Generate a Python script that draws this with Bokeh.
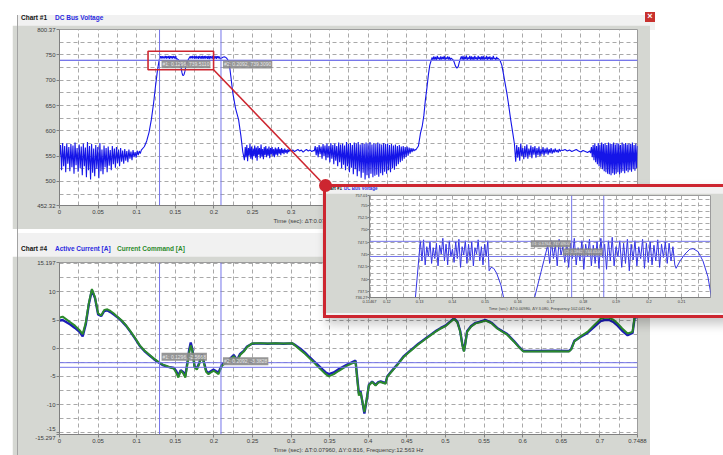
import numpy as np
from bokeh.plotting import figure
from bokeh.layouts import column
from bokeh.models import Range1d, FixedTicker, PrintfTickFormatter, Label, Div
from bokeh.embed import file_html
from bokeh.resources import INLINE

# ---------------- Chart #1: DC bus voltage (V) ----------------
bus_x_range = (0.0, 0.7488)
bus_y_range = (452.32, 800.37)
bus_x_ticks = [0, 0.05, 0.1, 0.15, 0.2, 0.25, 0.3, 0.35, 0.4, 0.45, 0.5, 0.55, 0.6, 0.65, 0.7, 0.7488]
bus_y_ticks = [452.32, 500, 550, 600, 650, 700, 750, 800.37]

# evenly sampled runs: (start, end) and the recorded samples
bus_run1_span = (0.0, 0.106)
bus_run1 = [548, 572, 522, 576, 530, 570, 518, 575, 535, 568, 520, 574, 528, 571, 515, 577,
            532, 566, 519, 573, 526, 569, 512, 575, 530, 567, 508, 578, 522, 570, 504, 574,
            517, 565, 510, 572, 525, 568, 506, 576, 520, 563, 514, 571, 528, 566, 518, 569,
            531, 562, 522, 570, 534, 565, 527, 568, 536, 563, 530, 566, 539, 561, 535, 564,
            541, 560, 538, 563, 545, 559, 542, 562, 548, 558, 547, 561, 552, 560, 555, 562]
bus_rise1_t = [0.110, 0.113, 0.116, 0.119, 0.122, 0.1245, 0.1268, 0.1287]
bus_rise1_v = [569, 580, 597, 622, 656, 690, 718, 736.3]
bus_plat1_span = (0.1302, 0.1508)
bus_plat1 = [747.8, 743.7, 748.0, 742.9, 746.6, 744.6, 747.6, 743.2, 746.4, 744.2, 747.3, 742.7,
             746.9, 745.1, 748.3, 743.7, 747.1, 742.9, 747.8, 744.6, 746.1, 743.4, 747.6, 744.2,
             748.1, 742.4, 746.6, 744.9, 747.8, 743.2, 747.1, 743.9, 747.6, 742.7, 746.4, 745.1,
             748.0, 743.7, 746.6, 742.9, 747.1, 744.6, 747.8]
bus_dip1_t = [0.1512, 0.1518, 0.1526, 0.1535, 0.1548, 0.1556, 0.1565, 0.1575, 0.1585, 0.1595,
              0.1605, 0.1615, 0.1625, 0.1638, 0.1651, 0.1671]
bus_dip1_v = [741.7, 742.4, 742.2, 741.2, 738.8, 736.3, 733, 726, 716, 710, 709.5, 712, 718,
              728, 736.3, 741.6]
bus_plat2_span = (0.1691, 0.2079)
bus_plat2 = [746.9, 743.2, 747.8, 744.2, 747.1, 742.7, 748.1, 744.9, 746.6, 743.4, 747.6, 742.4,
             747.3, 744.2, 748.3, 742.9, 746.4, 743.7, 747.8, 742.0, 747.1, 744.6, 748.1, 742.7,
             746.9, 743.2, 747.6, 742.2, 748.3, 744.4, 747.1, 742.0, 747.8, 743.7, 748.5, 742.7,
             746.6, 744.6, 747.8, 742.4, 747.3, 743.2, 748.1, 741.7, 747.1, 743.9, 747.8, 742.7,
             746.6, 744.2, 748.1, 742.2, 747.3, 743.4, 747.6, 742.9, 746.9, 743.7, 748.0, 742.4,
             747.1, 744.4, 747.6, 743.2, 747.3, 743.7, 746.6, 742.9]
bus_fall1_t = [0.2083, 0.2095, 0.2110, 0.2125, 0.2135, 0.2150, 0.2165, 0.218, 0.2191, 0.2205,
               0.2222, 0.2245, 0.228, 0.232, 0.235, 0.2374]
bus_fall1_v = [742.2, 743.7, 745.1, 746.1, 746.2, 745.6, 743.7, 740.5, 736.3, 726, 705, 675,
               645, 622, 590, 559]
bus_run2_span = (0.2396, 0.298)
bus_run2 = [542, 568, 548, 572, 540, 566, 551, 574, 545, 569, 543, 565, 550, 571, 547, 567,
            541, 570, 553, 566, 546, 573, 549, 564, 544, 568, 552, 570, 548, 565, 551, 569,
            546, 566, 554, 568, 550, 564, 548, 567, 553, 565, 551, 568, 555, 564, 552, 566,
            556, 563, 554, 565, 557, 562, 555, 564, 558, 562]
bus_calm1_span = (0.300, 0.329)
bus_calm1 = [560, 562, 559, 561, 563, 560, 562, 558, 561, 563, 560, 562, 559, 561]
bus_run3_span = (0.330, 0.4605)
bus_run3 = [560, 570, 552, 568, 548, 572, 554, 569, 545, 574, 550, 571, 542, 575, 547, 570,
            538, 576, 545, 572, 534, 575, 541, 570, 530, 577, 538, 573, 526, 575, 533, 571,
            522, 578, 530, 574, 518, 576, 527, 572, 514, 577, 524, 575, 510, 578, 520, 573,
            507, 576, 517, 574, 504, 577, 512, 575, 506, 578, 515, 573, 508, 576, 511, 574,
            513, 577, 509, 575, 516, 573, 512, 576, 519, 574, 515, 575, 522, 572, 518, 574,
            526, 571, 523, 573, 530, 570, 534, 572, 538, 569, 541, 570, 545, 568, 548, 569,
            551, 567, 555, 566, 558, 565, 560, 563]
bus_rise2_t = [0.4615, 0.465, 0.4676, 0.470, 0.472, 0.474, 0.476, 0.478, 0.4797]
bus_rise2_v = [562, 570, 595, 610, 630, 661, 685, 712, 730]
bus_plat3_span = (0.4827, 0.5085)
bus_plat3 = [745, 740, 747, 741, 746, 740, 748, 742, 745, 740, 747, 741, 746, 742, 748, 740,
             745, 742, 747, 741, 746, 740, 744, 742]
bus_dip2_t = [0.5100, 0.511, 0.513, 0.5148, 0.5165, 0.518]
bus_dip2_v = [740, 737, 728, 724, 727, 736]
bus_plat4_span = (0.5195, 0.5685)
bus_plat4 = [743, 747, 741, 748, 740, 746, 742, 749, 740, 745, 742, 748, 740, 747, 741, 746,
             740, 748, 742, 745, 740, 748, 742, 746, 740, 747, 741, 748, 740, 745, 742, 748,
             740, 746, 742, 747, 740, 745, 741, 748, 742, 744, 740, 746, 742, 743]
bus_fall2_t = [0.571, 0.573, 0.5752, 0.5773, 0.5795, 0.5815, 0.5845, 0.587, 0.5893]
bus_fall2_v = [738, 730, 712, 694, 675, 655, 622, 598, 575]
bus_run4_span = (0.591, 0.650)
bus_run4 = [539, 572, 547, 568, 541, 575, 550, 566, 544, 570, 548, 573, 545, 565, 551, 571,
            546, 568, 553, 570, 547, 566, 552, 569, 549, 564, 554, 568, 551, 565, 555, 567,
            553, 564, 556, 566, 555, 563, 557, 565, 558, 562, 557, 564, 559, 562]
bus_calm2_span = (0.652, 0.687)
bus_calm2 = [561, 563, 560, 562, 559, 561, 563, 560, 558, 561, 559, 557, 560]
bus_run5_span = (0.688, 0.7488)
bus_run5 = [556, 568, 548, 572, 542, 575, 538, 570, 534, 576, 530, 573, 527, 577, 524, 574,
            520, 576, 518, 572, 515, 577, 514, 575, 512, 574, 516, 577, 513, 573, 515, 576,
            518, 575, 514, 572, 517, 577, 520, 574, 516, 576, 521, 573, 518, 575, 522, 574,
            519, 577, 524, 572, 521, 575, 526, 570]

bus_cursor_t = [0.1296, 0.2092]
bus_cursor_v = [739.5110, 739.3090]
bus_axis_title = "Time (sec): \u0394T:0.07960, \u0394Y:0.202, Frequency:12.563 Hz"

# zoom window shown in the detail view, and where its callout ends
zoom_box_t = (0.1147, 0.1996)
zoom_box_v = (720.7, 757.5)
callout_end = (0.3381, 500.8)

# ---------------- Chart #1 detail view ----------------
det_x_range = (0.11467, 0.2188)
det_y_range = (736.27, 757.01)
det_x_ticks = [0.11467, 0.12, 0.13, 0.14, 0.15, 0.16, 0.17, 0.18, 0.19, 0.2, 0.21]
det_y_ticks = [736.27, 737.5, 740, 742.5, 745, 747.5, 750, 752.5, 755, 757.01]
det_cursor_t = [0.1764, 0.1862]
det_cursor_v = [747.69, 744.61]
det_axis_title = "Time (sec): \u0394T:0.00980, \u0394Y:3.080, Frequency:102.041 Hz"

# ---------------- Chart #4: currents (A) ----------------
cur_x_range = (0.0, 0.7488)
cur_y_range = (-15.297, 15.197)
cur_y_ticks = [-15.297, -15, -10, -5, 0, 5, 10, 15.197]
cur_t = [0.000, 0.004, 0.008, 0.014, 0.020, 0.026, 0.030, 0.034, 0.038, 0.042, 0.046, 0.050,
         0.054, 0.058, 0.062, 0.066, 0.070, 0.075, 0.080, 0.086, 0.092, 0.098, 0.104, 0.110,
         0.116, 0.122, 0.128, 0.134, 0.140, 0.145, 0.148, 0.151, 0.154, 0.157, 0.160, 0.163,
         0.166, 0.168, 0.170, 0.172, 0.175, 0.178, 0.181, 0.1845, 0.187, 0.190, 0.193, 0.196,
         0.1997, 0.203, 0.206, 0.2106, 0.214, 0.218, 0.2214, 0.2257, 0.230, 0.234, 0.2387,
         0.243, 0.2495, 0.26, 0.27, 0.28, 0.29, 0.3014, 0.306, 0.312, 0.318, 0.324, 0.3294,
         0.335, 0.341, 0.345, 0.349, 0.3554, 0.362, 0.3727, 0.3835, 0.3878, 0.390, 0.3925,
         0.395, 0.398, 0.4008, 0.405, 0.4095, 0.413, 0.416, 0.4224, 0.4246, 0.430, 0.4376,
         0.4462, 0.452, 0.459, 0.465, 0.47, 0.476, 0.482, 0.488, 0.494, 0.500, 0.506, 0.511,
         0.5154, 0.519, 0.522, 0.524, 0.526, 0.528, 0.533, 0.539, 0.545, 0.552, 0.56, 0.567,
         0.574, 0.580, 0.5885, 0.595, 0.601, 0.62, 0.64, 0.660, 0.663, 0.667, 0.675, 0.684,
         0.692, 0.701, 0.706, 0.712, 0.718, 0.723, 0.729, 0.736, 0.7424, 0.7454, 0.7488]
current_command = [5.4, 5.6, 5.2, 4.6, 4.0, 3.2, 2.5, 4.5, 8.0, 10.5, 9.0, 6.2, 5.8, 6.8, 6.9,
                   6.6, 6.2, 5.6, 5.0, 4.1, 3.0, 1.8, 0.5, -0.4, -1.1, -1.8, -2.4, -2.9, -3.2,
                   -3.5, -3.6, -4.3, -5.2, -4.0, -4.4, -5.2, -2.6, -0.8, 0.5, -0.4, -3.4, -3.8,
                   -2.8, -1.3, -2.6, -4.2, -4.6, -4.3, -4.0, -4.3, -4.6, -3.1, -2.7, -2.5, -2.0,
                   -1.4, -2.3, -1.2, -0.6, 0.2, 0.85, 0.9, 0.85, 0.9, 0.85, 0.9, 0.4, -0.3, -1.0,
                   -1.8, -2.5, -3.3, -4.1, -4.6, -5.0, -4.6, -4.0, -3.1, -2.4, -8.4, -7.8, -9.5,
                   -11.3, -9.0, -6.6, -6.0, -6.6, -6.1, -6.0, -6.3, -5.1, -4.2, -3.0, -1.5, -0.8,
                   0.0, 0.7, 1.2, 1.8, 2.4, 3.0, 3.5, 3.9, 4.6, 5.2, 4.6, 3.0, 0.5, -0.6, 1.0,
                   2.9, 3.8, 4.4, 4.6, 4.9, 4.4, 3.5, 2.9, 2.4, 1.2, 0.2, -0.6, -0.6, -0.55,
                   -0.6, -0.2, 1.2, 2.1, 2.9, 4.0, 5.2, 5.4, 5.4, 5.0, 4.4, 3.5, 2.6, 2.9, 5.9, 5.6]
active_current = [4.9, 5.0, 4.7, 4.2, 3.6, 2.9, 2.1, 4.2, 7.8, 10.3, 8.9, 6.0, 5.7, 6.6, 6.7,
                  6.4, 6.0, 5.5, 4.9, 4.0, 2.9, 1.7, 0.4, -0.5, -1.2, -1.9, -2.5, -3.0, -3.3,
                  -3.4, -3.5, -4.0, -4.9, -3.9, -4.2, -4.9, -2.2, -0.3, 1.0, -0.1, -3.2, -3.6,
                  -2.6, -1.1, -2.4, -4.0, -4.4, -4.1, -3.8, -4.1, -4.3, -2.9, -2.5, -2.3, -1.8,
                  -1.2, -2.1, -1.0, -0.5, 0.3, 0.8, 0.85, 0.8, 0.85, 0.8, 0.85, 0.5, -0.1, -0.8,
                  -1.6, -2.3, -3.0, -3.8, -4.3, -4.6, -4.3, -3.7, -2.9, -2.2, -8.0, -7.6, -9.6,
                  -11.6, -9.1, -6.5, -5.9, -6.5, -6.0, -5.9, -6.2, -5.0, -4.1, -2.9, -1.4, -0.7,
                  0.1, 0.8, 1.3, 1.9, 2.5, 3.1, 3.6, 4.0, 4.7, 5.3, 4.7, 3.1, 0.6, -0.5, 1.1,
                  3.0, 3.9, 4.5, 4.7, 5.0, 4.5, 3.6, 3.0, 2.5, 1.3, 0.3, -0.5, -0.5, -0.45,
                  -0.5, -0.1, 1.3, 2.0, 2.7, 3.7, 4.8, 5.0, 5.0, 4.6, 4.0, 3.1, 2.3, 2.7, 5.7, 5.4]
cur_cursor_t = [0.1296, 0.2092]
cur_cursor_v = [-2.5668, -3.3828]
cur_axis_title = "Time (sec): \u0394T:0.07960, \u0394Y:0.816, Frequency:12.563 Hz"

# ---------------- styling ----------------
FONT = "Liberation Sans"
PANEL = "#d5d7d2"
HEADER = "#f1f1f1"
GRID = "#a9a9a9"
CURSOR = "#7474ea"
BUS_BLUE = "#1515e8"
ACT_BLUE = "#1d1db8"
CMD_GREEN = "#2b8a2b"
RED = "#cd2630"


def sampled(span, vals):
    return list(np.linspace(span[0], span[1], len(vals))), list(vals)


pieces = [
    sampled(bus_run1_span, bus_run1), (bus_rise1_t, bus_rise1_v),
    sampled(bus_plat1_span, bus_plat1), (bus_dip1_t, bus_dip1_v),
    sampled(bus_plat2_span, bus_plat2), (bus_fall1_t, bus_fall1_v),
    sampled(bus_run2_span, bus_run2), sampled(bus_calm1_span, bus_calm1),
    sampled(bus_run3_span, bus_run3), (bus_rise2_t, bus_rise2_v),
    sampled(bus_plat3_span, bus_plat3), (bus_dip2_t, bus_dip2_v),
    sampled(bus_plat4_span, bus_plat4), (bus_fall2_t, bus_fall2_v),
    sampled(bus_run4_span, bus_run4), sampled(bus_calm2_span, bus_calm2),
    sampled(bus_run5_span, bus_run5),
]
bus_t = [t for ts, _ in pieces for t in ts]
bus_v = [v for _, vs in pieces for v in vs]


def pos(left, top, w, h, extra=None):
    d = {"position": "absolute", "left": f"{left}px", "top": f"{top}px",
         "width": f"{w}px", "height": f"{h}px"}
    if extra:
        d.update(extra)
    return d


def style_axes(p, xt, yt, gx, gy, size, title, overrides=None):
    p.xaxis.ticker = FixedTicker(ticks=xt)
    p.yaxis.ticker = FixedTicker(ticks=yt)
    for ax in (p.xaxis[0], p.yaxis[0]):
        ax.formatter = PrintfTickFormatter(format="%g")
        ax.major_label_text_font = FONT
        ax.major_label_text_font_size = size
        ax.major_label_text_color = "#3c3c3c"
        ax.axis_line_color = "#808080"
        ax.major_tick_line_color = "#808080"
        ax.major_tick_in = 0
        ax.major_tick_out = 3
        ax.minor_tick_line_color = None
        ax.major_label_standoff = 1
    if overrides:
        p.yaxis[0].major_label_overrides = overrides
    p.xaxis.axis_label = title
    p.xaxis.axis_label_text_font = FONT
    p.xaxis.axis_label_text_font_size = size
    p.xaxis.axis_label_text_font_style = "normal"
    p.xaxis.axis_label_text_color = "#3c3c3c"
    p.xaxis.axis_label_standoff = 1
    p.xgrid.ticker = FixedTicker(ticks=gx)
    p.ygrid.ticker = FixedTicker(ticks=gy)
    p.grid.grid_line_color = GRID
    p.grid.grid_line_dash = "4 3"
    p.grid.grid_line_width = 1
    p.background_fill_color = "white"
    p.border_fill_color = PANEL
    p.outline_line_color = "#9c9c9c"


def add_cursors(p, xr, yr, ts, vs, texts, size, dx, dy, align):
    # vertical cursor bars: 1px wide filled rectangles spanning the plot height
    n = len(ts)
    p.rect(x=ts, y=[(yr[0] + yr[1]) / 2] * n, width=1, height=[yr[1] - yr[0]] * n,
           width_units="screen", fill_color=CURSOR, line_color=None)
    for v in vs:
        p.line(list(xr), [v, v], line_color=CURSOR, line_width=1)
    for t, v, txt, oy in zip(ts, vs, texts, dy):
        p.add_layout(Label(x=t, y=v, text=txt, x_offset=dx, y_offset=oy, text_align=align,
                           text_font=FONT, text_font_size=size, text_color="#e6e6e6",
                           background_fill_color="#8b8b8b", background_fill_alpha=0.9,
                           padding=1))


def cursor_texts(ts, vs):
    return [f"#{i + 1}: {t:.4f}, {v:.4f}" for i, (t, v) in enumerate(zip(ts, vs))]


# ---- top window: chart #1 ----
top = figure(width=638, height=204, x_range=Range1d(*bus_x_range), y_range=Range1d(*bus_y_range),
             output_backend="svg", toolbar_location=None, title=None,
             min_border_left=47, min_border_right=12, min_border_top=4, min_border_bottom=24,
             styles=pos(12, 25, 638, 204))
style_axes(top, bus_x_ticks, bus_y_ticks, list(np.round(np.arange(0, 0.75, 0.025), 4)),
           list(np.arange(475, 800, 25)), "6px", bus_axis_title)
top.line(bus_t, bus_v, line_color=BUS_BLUE, line_width=1.1)
add_cursors(top, bus_x_range, bus_y_range, bus_cursor_t, bus_cursor_v,
            cursor_texts(bus_cursor_t, bus_cursor_v), "5px", 2, [-8, -8], "left")
top.quad(left=[zoom_box_t[0]], right=[zoom_box_t[1]], bottom=[zoom_box_v[0]], top=[zoom_box_v[1]],
         fill_color=None, line_color=RED, line_width=1.6)
top.segment(x0=[zoom_box_t[1]], y0=[zoom_box_v[0]], x1=[callout_end[0]], y1=[callout_end[1]],
            line_color=RED, line_width=1.6)

# ---- bottom window: chart #4 ----
bot = figure(width=638, height=199, x_range=Range1d(*cur_x_range), y_range=Range1d(*cur_y_range),
             output_backend="svg", toolbar_location=None, title=None,
             min_border_left=47, min_border_right=13, min_border_top=6, min_border_bottom=20,
             styles=pos(12, 256, 638, 199))
style_axes(bot, bus_x_ticks, cur_y_ticks, list(np.round(np.arange(0, 0.75, 0.025), 4)),
           list(np.arange(-15, 15.1, 2.5)), "6px", cur_axis_title,
           overrides={-15: "-15\n", -15.297: "\n-15.297"})
bot.line(cur_t, active_current, line_color=ACT_BLUE, line_width=2.4)
bot.line(cur_t, current_command, line_color=CMD_GREEN, line_width=2.0)
add_cursors(bot, cur_x_range, cur_y_range, cur_cursor_t, cur_cursor_v,
            cursor_texts(cur_cursor_t, cur_cursor_v), "5px", 2, [2, 2], "left")

# ---- detail view of chart #1 ----
det = figure(width=401, height=120, x_range=Range1d(*det_x_range), y_range=Range1d(*det_y_range),
             output_backend="svg", toolbar_location=None, title=None,
             min_border_left=25, min_border_right=3, min_border_top=2, min_border_bottom=10,
             styles=pos(322, 193, 401, 120))
style_axes(det, det_x_ticks, det_y_ticks, list(np.round(np.arange(0.115, 0.2186, 0.005), 4)),
           list(np.arange(737.5, 757, 1.25)), "4px", det_axis_title)
for ax in (det.xaxis[0], det.yaxis[0]):
    ax.major_tick_out = 2
    ax.major_label_standoff = 0
det.xaxis.axis_label_standoff = 0
det.line(bus_t, bus_v, line_color="#3434e4", line_width=1)
add_cursors(det, det_x_range, det_y_range, det_cursor_t, det_cursor_v,
            cursor_texts(det_cursor_t, det_cursor_v), "4px", -1, [-6, 1], "right")

# ---- window chrome ----
HDR_FONT = f"font-family:'{FONT}',Arial,sans-serif;font-weight:bold;white-space:nowrap;"
top_hdr = Div(
    text=(f"<div style=\"position:relative;width:638px;height:14px;{HDR_FONT}font-size:6.5px;\">"
          "<span style='position:absolute;left:4px;top:-2px;color:#111'>Chart #1</span>"
          "<span style='position:absolute;left:38px;top:-2px;color:#2a2ae0'>DC Bus Voltage</span>"
          "<span style='position:absolute;left:628px;top:-3px;width:10px;height:10px;"
          "background:#c8312e;color:#fff;font-size:9px;line-height:9px;text-align:center'>&times;</span>"
          "</div>"),
    width=638, height=15, styles=pos(12, 10, 638, 15, {"background-color": HEADER}))
bot_hdr = Div(
    text=(f"<div style=\"position:relative;width:638px;height:28px;{HDR_FONT}font-size:6.5px;\">"
          "<span style='position:absolute;left:4px;top:11px;color:#111'>Chart #4</span>"
          "<span style='position:absolute;left:38px;top:11px;color:#2a2ae0'>Active Current [A]</span>"
          "<span style='position:absolute;left:100px;top:11px;color:#2b8a2b'>Current Command [A]</span>"
          "</div>"),
    width=638, height=28, styles=pos(12, 228, 638, 28, {"background-color": HEADER}))
left_edge = Div(text="", width=1, height=445,
                styles=pos(12, 10, 1, 445, {"background-color": "#a3a3a3"}))
det_hdr = Div(
    text=(f"<div style=\"position:relative;width:402px;height:12px;{HDR_FONT}font-size:4.5px;\">"
          "<span style='position:absolute;left:-2px;top:-1px;color:#111'>Chart #1</span>"
          "<span style='position:absolute;left:18px;top:-1px;color:#2a2ae0'>DC Bus Voltage</span>"
          "</div>"),
    width=402, height=131, styles=pos(321, 182, 402, 131, {"background-color": HEADER}))
det_frame = Div(text="", width=405, height=134,
                styles=pos(318, 179, 405, 134,
                           {"border": f"3px solid {RED}", "border-right": "none",
                            "box-sizing": "border-box",
                            "box-shadow": "3px 6px 10px rgba(0,0,0,0.22)"}))
dot = Div(text="", width=13, height=13,
          styles=pos(314, 174, 13, 13, {"background-color": RED, "border-radius": "50%"}))

page = column(top_hdr, top, bot_hdr, bot, left_edge, det_hdr, det, det_frame, dot,
              width=723, height=455, sizing_mode="fixed",
              styles={"position": "relative", "width": "723px", "height": "455px"})

with open("out.html", "w") as f:
    f.write(file_html(page, INLINE, title="DC Bus Voltage / Current"))
